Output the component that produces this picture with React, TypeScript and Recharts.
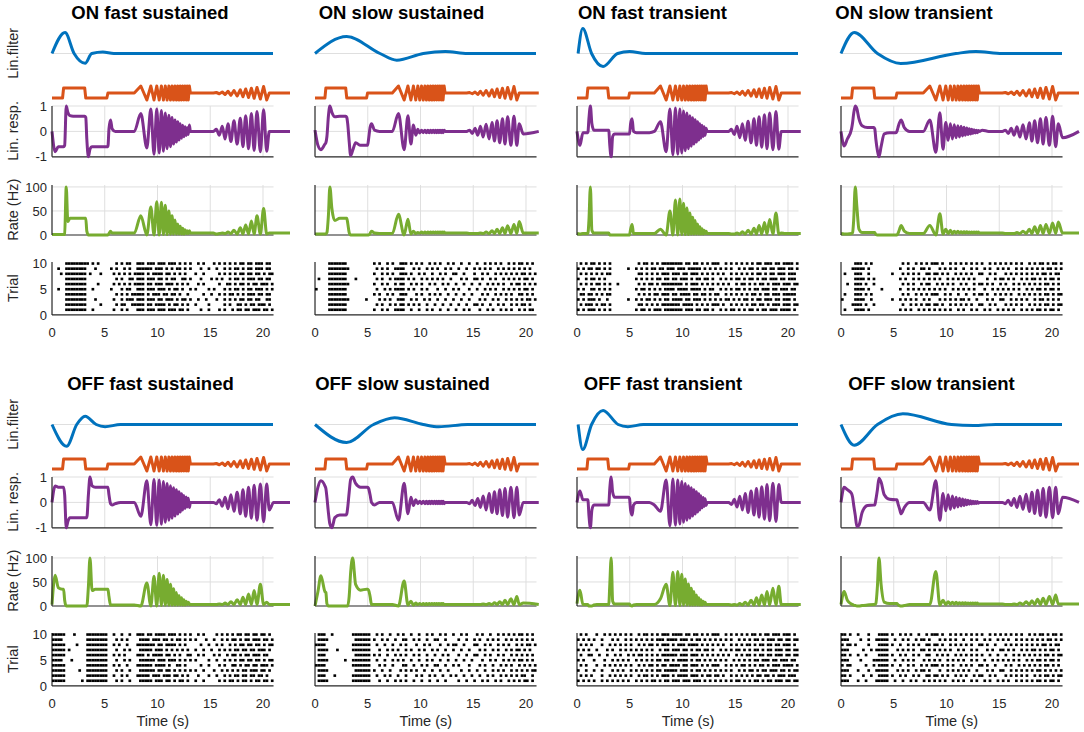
import React from 'react'
import { ComposedChart, Line, Scatter, XAxis, YAxis } from 'recharts'

// ---------- data ----------

const TITLES = [
  'ON fast sustained', 'ON slow sustained', 'ON fast transient', 'ON slow transient',
  'OFF fast sustained', 'OFF slow sustained', 'OFF fast transient', 'OFF slow transient',
]

// sample times (s): columns 1 & 4 use TIME_A, columns 2 & 3 use TIME_B
const TIME_A = [
  0, 0.3, 0.6, 1.0, 1.1, 1.2, 1.35, 1.5, 1.7, 2.0, 2.5, 3.1, 3.2, 3.3, 3.45, 3.6, 3.8, 4.1, 4.6, 5.2, 5.3, 5.4, 5.55, 5.7, 6.0, 6.5, 7.3, 7.8,
  8.42, 8.99, 9.37, 9.67, 9.93, 10.16, 10.37, 10.56, 10.74, 10.91, 11.08, 11.23, 11.38, 11.52, 11.66, 11.79, 11.92, 12.04, 12.16, 12.28, 12.39, 12.5, 12.61, 12.72, 12.82, 12.92, 13.02,
  13.12, 13.4, 14.0, 14.8, 15.3,
  15.58, 15.86, 16.14, 16.41, 16.68, 16.96, 17.25, 17.55, 17.85, 18.1, 18.36, 18.63, 18.9, 19.16, 19.43, 19.75, 20.06, 20.35,
  20.6, 21.0, 22.56,
]
const TIME_B = [
  0, 0.28, 0.56, 0.94, 1.03, 1.13, 1.27, 1.41, 1.6, 1.88, 2.35, 2.91, 3.01, 3.1, 3.24, 3.38, 3.57, 3.85, 4.32, 4.89, 4.98, 5.08, 5.22, 5.36, 5.64, 6.11, 6.86, 7.33,
  7.91, 8.45, 8.81, 9.09, 9.33, 9.55, 9.75, 9.93, 10.1, 10.26, 10.42, 10.56, 10.7, 10.83, 10.96, 11.08, 11.2, 11.32, 11.43, 11.54, 11.65, 11.75, 11.85, 11.96, 12.05, 12.14, 12.24,
  12.33, 12.6, 13.16, 13.91, 14.38,
  14.65, 14.91, 15.17, 15.43, 15.68, 15.94, 16.22, 16.5, 16.78, 17.01, 17.26, 17.51, 17.77, 18.01, 18.26, 18.57, 18.86, 19.13,
  19.36, 19.74, 21.21,
]

const STIMULUS = [
  -1, -1, -1, -1, 1, 1, 1, 1, 1, 1, 1, 1, -1, -1, -1, -1, -1, -1, -1, -1, 0, 0, 0, 0, 0, 0, 0, 0,
  1.4, -1.4, 1.4, -1.4, 1.4, -1.4, 1.4, -1.4, 1.4, -1.4, 1.4, -1.4, 1.4, -1.4, 1.4, -1.4, 1.4, -1.4, 1.4, -1.4, 1.4, -1.4, 1.4, -1.4, 1.4, -1.4, 1.4,
  0, 0, 0, 0, 0,
  0.1, -0.15, 0.2, -0.3, 0.35, -0.45, 0.5, -0.6, 0.65, -0.75, 0.8, -0.9, 0.95, -1.05, 1.1, -1.2, 1.3, -1.4,
  0, 0, 0,
]

// linear filters: lag in % of the filter axis, value in axis units
const FILTER_LAG_ON_FAST_SUS = [0, 5.9, 10, 15, 18, 23, 28, 100]
const FILTER_ON_FAST_SUS = [0, 0.84, 0, -0.39, 0, 0.06, 0, 0]
const FILTER_LAG_ON_SLOW_SUS = [0, 14.3, 29.4, 37, 49, 59, 69, 100]
const FILTER_ON_SLOW_SUS = [0, 0.68, 0, -0.27, 0, 0.08, 0, 0]
const FILTER_LAG_ON_FAST_TRANS = [0.5, 2.6, 6.6, 11.8, 18.4, 23.8, 31, 100]
const FILTER_ON_FAST_TRANS = [0, 1.0, 0, -0.52, 0, 0.08, 0, 0]
const FILTER_LAG_ON_SLOW_TRANS = [0, 6, 16.5, 27, 52, 61, 73, 100]
const FILTER_ON_SLOW_TRANS = [0, 0.84, 0, -0.4, 0, 0.08, 0, 0]
const FILTER_LAG_OFF_FAST_SUS = [0, 6.6, 11.2, 15, 20, 24, 31, 100]
const FILTER_OFF_FAST_SUS = [0, -0.87, 0, 0.33, 0, -0.09, 0, 0]
const FILTER_LAG_OFF_SLOW_SUS = [0, 14.3, 26.5, 36, 49, 56, 69, 100]
const FILTER_OFF_SLOW_SUS = [0, -0.72, 0, 0.27, 0, -0.09, 0, 0]
const FILTER_LAG_OFF_FAST_TRANS = [0.5, 2.6, 6.6, 11.8, 18.6, 23, 30, 100]
const FILTER_OFF_FAST_TRANS = [0, -1.0, 0, 0.56, 0, -0.09, 0, 0]
const FILTER_LAG_OFF_SLOW_TRANS = [0, 6, 16.5, 28, 50, 60, 70, 100]
const FILTER_OFF_SLOW_TRANS = [0, -0.83, 0, 0.43, 0, -0.04, 0, 0]

// linear responses
const RESP_ON_FAST_SUS = [
  0, -0.8, -0.6, -0.6, -0.6, -0.55, 1.0, 0.75, 0.62, 0.6, 0.6, 0.6, 0.55, -0.3, -1.0, -0.7, -0.6, -0.6, -0.6, -0.6, -0.6, 0.1, 0.45, 0.1, 0, 0, 0, 0,
  0.7, -0.65, 0.88, -0.9, 0.88, -0.85, 0.82, -0.78, 0.72, -0.68, 0.64, -0.6, 0.55, -0.5, 0.45, -0.42, 0.38, -0.34, 0.3, -0.27, 0.24, -0.21, 0.18, -0.16, 0.14, -0.12, 0.25,
  0, 0, 0, 0, 0,
  0.08, -0.15, 0.2, -0.3, 0.3, -0.4, 0.42, -0.5, 0.52, -0.6, 0.62, -0.68, 0.7, -0.75, 0.78, -0.8, 0.85, -0.78,
  0, 0, 0,
]
const RESP_ON_SLOW_SUS = [
  0.05, -0.55, -0.72, -0.5, -0.45, -0.2, 0.6, 1.0, 0.75, 0.58, 0.6, 0.6, 0.55, 0.3, -0.4, -0.95, -0.75, -0.45, -0.55, -0.55, -0.55, -0.3, 0.15, 0.3, 0.05, 0, 0, 0,
  0.7, -0.72, 0.62, -0.5, 0.25, -0.15, 0.08, -0.06, 0.05, -0.05, 0.05, -0.05, 0.05, -0.05, 0.05, -0.05, 0.05, -0.05, 0.05, -0.05, 0.05, -0.05, 0.05, -0.05, 0.05, -0.05, 0.05,
  0, 0, 0, 0, 0,
  0.05, -0.08, 0.12, -0.15, 0.2, -0.22, 0.28, -0.3, 0.35, -0.38, 0.42, -0.45, 0.5, -0.5, 0.58, -0.55, 0.6, -0.55,
  0.3, -0.1, 0,
]
const RESP_ON_FAST_TRANS = [
  0, -0.55, -0.05, -0.05, -0.05, 0.5, 1.0, 0.3, 0.05, 0.05, 0.05, 0.05, 0.05, -0.5, -1.0, -0.2, -0.1, -0.1, -0.1, -0.1, -0.1, 0.3, 0.5, 0, -0.05, -0.05, -0.05, 0,
  0.38, -0.8, 0.88, -0.92, 0.92, -0.9, 0.88, -0.85, 0.8, -0.76, 0.72, -0.68, 0.62, -0.58, 0.54, -0.5, 0.46, -0.42, 0.38, -0.34, 0.3, -0.27, 0.24, -0.2, 0.18, -0.15, 0.12,
  0, 0, 0, 0, 0,
  0.08, -0.12, 0.2, -0.25, 0.3, -0.35, 0.4, -0.45, 0.5, -0.55, 0.58, -0.62, 0.66, -0.68, 0.72, -0.72, 0.78, -0.7,
  0, 0, 0,
]
const RESP_ON_SLOW_TRANS = [
  0, -0.57, -0.3, 0.1, 0.35, 0.7, 1.0, 0.9, 0.5, 0.22, 0.15, 0.15, 0.1, -0.3, -0.75, -1.0, -0.6, -0.1, -0.05, -0.05, 0, 0.15, 0.35, 0.45, 0.15, 0, 0, 0,
  0.45, -0.82, 0.73, -0.7, 0.35, -0.35, 0.3, -0.3, 0.26, -0.25, 0.22, -0.22, 0.2, -0.18, 0.16, -0.15, 0.13, -0.12, 0.1, -0.1, 0.08, -0.08, 0.06, -0.06, 0.05, -0.05, 0.04,
  0, 0.05, 0, 0, 0,
  0.05, -0.08, 0.12, -0.15, 0.18, -0.22, 0.26, -0.3, 0.34, -0.38, 0.42, -0.45, 0.5, -0.5, 0.55, -0.55, 0.6, -0.6,
  0.3, -0.25, 0,
]
const RESP_OFF_FAST_SUS = [
  0, 0.65, 0.6, 0.6, 0.6, 0.3, -1.0, -0.75, -0.6, -0.6, -0.6, -0.6, -0.6, -0.6, 0.3, 1.0, 0.65, 0.6, 0.6, 0.6, 0.6, 0.3, -0.05, -0.1, -0.05, 0, 0, 0,
  -0.55, 0.85, -0.88, 0.9, -0.9, 0.88, -0.86, 0.82, -0.78, 0.74, -0.7, 0.66, -0.62, 0.58, -0.54, 0.5, -0.46, 0.42, -0.38, 0.34, -0.3, 0.27, -0.24, 0.21, -0.18, 0.16, -0.2,
  0, 0, 0, 0, 0,
  -0.05, 0.1, -0.15, 0.2, -0.25, 0.3, -0.35, 0.4, -0.45, 0.5, -0.55, 0.6, -0.62, 0.68, -0.7, 0.72, -0.76, 0.72,
  -0.3, 0, 0,
]
const RESP_OFF_SLOW_SUS = [
  0, 0.6, 0.85, 0.65, 0.55, 0.2, -0.4, -0.85, -1.0, -0.6, -0.5, -0.5, -0.45, -0.2, 0.4, 0.9, 1.0, 0.75, 0.6, 0.6, 0.6, 0.55, 0.3, 0, -0.1, 0, 0, 0,
  -0.7, 0.75, -0.45, 0.2, -0.12, 0.1, -0.05, 0.05, -0.05, 0.05, -0.05, 0.05, -0.05, 0.05, -0.05, 0.05, -0.05, 0.05, -0.05, 0.05, -0.05, 0.05, -0.05, 0.05, -0.05, 0.05, -0.05,
  0, 0, 0, 0, 0,
  -0.05, 0.08, -0.12, 0.15, -0.2, 0.25, -0.3, 0.35, -0.4, 0.42, -0.45, 0.5, -0.52, 0.55, -0.58, 0.6, -0.6, 0.6,
  -0.5, 0, 0,
]
const RESP_OFF_FAST_TRANS = [
  0, 0.45, 0.1, 0.1, 0.1, -0.5, -1.0, -0.3, -0.1, -0.1, -0.1, -0.1, -0.1, 0.5, 1.0, 0.4, 0.2, 0.2, 0.2, 0.2, 0.15, -0.3, -0.5, -0.1, 0, 0, 0, -0.1,
  -0.35, 0.88, -0.92, 0.92, -0.9, 0.88, -0.85, 0.82, -0.78, 0.74, -0.7, 0.66, -0.62, 0.58, -0.54, 0.5, -0.46, 0.42, -0.38, 0.34, -0.3, 0.26, -0.22, 0.19, -0.16, 0.14, -0.12,
  0, 0, 0, 0, 0,
  -0.08, 0.12, -0.18, 0.24, -0.3, 0.35, -0.4, 0.45, -0.5, 0.55, -0.58, 0.62, -0.66, 0.7, -0.72, 0.75, -0.75, 0.7,
  0, 0, 0,
]
const RESP_OFF_SLOW_TRANS = [
  0, 0.6, 0.5, 0.35, 0.2, -0.1, -0.5, -0.95, -0.9, -0.4, -0.12, -0.1, -0.1, 0.1, 0.5, 0.95, 0.8, 0.3, 0.12, 0.1, 0.1, -0.05, -0.25, -0.45, -0.2, 0, 0, 0,
  -0.3, 0.85, -0.7, 0.35, -0.33, 0.3, -0.28, 0.25, -0.22, 0.2, -0.18, 0.16, -0.14, 0.13, -0.12, 0.1, -0.09, 0.08, -0.07, 0.06, -0.06, 0.05, -0.05, 0.04, -0.04, 0.04, -0.03,
  0, 0, 0, 0, 0,
  -0.05, 0.08, -0.12, 0.15, -0.2, 0.24, -0.28, 0.32, -0.36, 0.4, -0.44, 0.48, -0.52, 0.55, -0.58, 0.6, -0.6, 0.6,
  -0.45, 0.2, 0,
]

// firing rates (Hz)
const RATE_ON_FAST_SUS = [
  1, 1, 1, 1, 1, 2, 100, 28, 35, 35, 35, 35, 35, 8, 0, 0, 0, 0, 0, 0, 0, 3, 8, 4, 4, 4, 4, 4,
  40, 0, 58, 0, 69, 0, 68, 1, 62, 1, 50, 2, 40, 2, 31, 2, 23, 2, 18, 2, 14, 2, 11, 3, 9, 3, 9,
  4, 4, 4, 4, 4,
  2, 3, 4, 3, 6, 3, 10, 2, 15, 2, 21, 2, 29, 2, 40, 2, 55, 2,
  4, 4, 4,
]
const RATE_ON_SLOW_SUS = [
  2, 2, 2, 2, 2, 5, 40, 100, 55, 30, 35, 35, 35, 25, 5, 0, 0, 0, 0, 0, 0, 0, 3, 8, 4, 3, 3, 3,
  43, 0, 33, 2, 8, 3, 5, 4, 6, 4, 6, 4, 6, 4, 6, 4, 6, 4, 6, 4, 6, 4, 6, 4, 6, 4, 6,
  4, 4, 4, 4, 4,
  3, 3, 3, 3, 4, 3, 6, 3, 9, 3, 12, 3, 15, 3, 19, 3, 22, 3,
  28, 4, 4,
]
const RATE_ON_FAST_TRANS = [
  3, 2, 3, 3, 3, 30, 100, 10, 4, 4, 4, 4, 4, 0, 0, 0, 0, 0, 0, 0, 0, 12, 22, 3, 3, 3, 3, 3,
  12, 0, 50, 0, 73, 0, 75, 1, 66, 1, 56, 1, 46, 2, 37, 2, 30, 2, 23, 2, 17, 2, 13, 2, 10, 3, 8,
  3, 3, 3, 3, 3,
  2, 2, 4, 2, 7, 2, 10, 2, 14, 2, 20, 2, 26, 2, 32, 2, 46, 2,
  4, 3, 3,
]
const RATE_ON_SLOW_TRANS = [
  3, 2, 2, 3, 5, 30, 100, 60, 12, 5, 5, 5, 5, 1, 0, 0, 0, 0, 0, 0, 0, 3, 12, 20, 8, 3, 3, 3,
  20, 0, 44, 2, 12, 3, 10, 3, 8, 4, 8, 4, 7, 4, 7, 4, 7, 4, 6, 4, 6, 4, 6, 4, 6, 4, 6,
  4, 4, 4, 4, 4,
  3, 3, 3, 3, 5, 3, 8, 3, 12, 3, 17, 3, 20, 3, 22, 3, 25, 3,
  27, 4, 4,
]
const RATE_OFF_FAST_SUS = [
  3, 64, 38, 35, 35, 12, 0, 0, 0, 0, 0, 0, 0, 0, 40, 100, 32, 35, 35, 35, 35, 20, 2, 2, 2, 2, 2, 2,
  0, 48, 0, 62, 0, 68, 1, 64, 2, 55, 2, 45, 2, 36, 2, 28, 2, 22, 2, 17, 2, 13, 2, 10, 3, 8, 4,
  3, 3, 3, 3, 3,
  3, 4, 3, 6, 3, 9, 3, 13, 3, 18, 3, 25, 3, 32, 3, 45, 3, 8,
  3, 3, 3,
]
const RATE_OFF_SLOW_SUS = [
  0, 30, 63, 30, 28, 5, 0, 0, 0, 0, 0, 0, 0, 0, 20, 70, 100, 45, 33, 35, 35, 33, 20, 3, 3, 3, 3, 3,
  0, 52, 2, 10, 2, 6, 3, 5, 3, 5, 3, 5, 3, 5, 3, 5, 3, 5, 3, 5, 3, 5, 3, 5, 3, 5, 3,
  3, 3, 3, 3, 3,
  3, 3, 3, 3, 3, 4, 3, 5, 3, 7, 3, 9, 3, 12, 3, 15, 3, 20,
  3, 6, 3,
]
const RATE_OFF_FAST_TRANS = [
  5, 33, 3, 3, 3, 0, 0, 0, 2, 3, 3, 3, 3, 40, 100, 10, 4, 4, 4, 4, 4, 1, 0, 2, 3, 3, 3, 3,
  15, 45, 1, 70, 1, 72, 1, 66, 2, 56, 2, 46, 2, 37, 2, 30, 2, 23, 2, 17, 2, 13, 2, 10, 3, 8, 3,
  3, 3, 3, 3, 3,
  2, 3, 2, 5, 2, 8, 2, 12, 2, 17, 2, 23, 2, 30, 2, 37, 2, 41,
  3, 3, 3,
]
const RATE_OFF_SLOW_TRANS = [
  3, 30, 12, 4, 3, 2, 1, 0, 0, 1, 2, 3, 3, 5, 40, 100, 45, 8, 5, 5, 5, 3, 1, 0, 1, 3, 3, 3,
  3, 72, 2, 12, 3, 9, 4, 8, 4, 8, 4, 7, 4, 7, 4, 7, 4, 6, 4, 6, 4, 6, 4, 6, 4, 6, 4,
  4, 4, 4, 4, 4,
  3, 3, 3, 4, 3, 6, 3, 9, 3, 11, 3, 14, 3, 16, 3, 20, 3, 23,
  4, 4, 4,
]

// spike rasters, trial 1..10; '#' = spike in a 0.25 s bin, '|' starts the next stretch
const RASTER_SEG_START = [0, 1.25, 3.25, 5.5, 7.75, 9, 11.5, 13.25, 15.25]
const RASTER_ON_FAST_SUS = [
  '.....|########|..#......|.#..#.#..|.###.|###.###.##|#.##.#.|...#..#.|..#.#..#.##.##.###.##.#',
  '.....|########|.....#...|..#.##..#|####.|##.####.#.|##.#.#.|.#....#.|....#.#..##.#.##.###.#.',
  '.....|########|...#.....|.#..#.###|.###.|###.##.###|.#.##.#|..#..#..|.#..#.#.#.##.##.##..##.',
  '.....|########|.........|..#.#.#.#|####.|#.###.##.#|#.#..#.|....#..#|..#.#.##.#.#.###.##.##.',
  '..#..|########|..#......|#...#.##.|.###.|###.###.#.|##.#..#|.#....#.|#...#.#.##.#.##.###.#.#',
  '.....|########|....#....|.#.#.#.#.|####.|##.###.###|.#.#.#.|..#.#...|..#..##.#.##.#.##.###.#',
  '.....|########|.........|..#.#..##|.###.|###.##.#.#|#..##.#|...#...#|.#.#..#.##.#.###.##.##.',
  '...#.|########|.#...#...|.#.#.#.#.|####.|#.####.##.|#.#.#..|.#..#...|..#.#.#.#.##.##.##.#.##',
  '..#..|########|...#.....|#.#..#.#.|.####|##.###.#.#|.##.#.#|...#..#.|.#..#.#.##.#.##.###.##.',
  '.....|########|#.#.#....|..#.#.##.|.###.|###.###.##|#.#.#.#|..#.#...|#.#.#.#.#.##.##.###.##.',
]
const RASTER_ON_SLOW_SUS = [
  '.....|#######.|.........|#..#.#..#|###..|#..#..#.#.|.#..#..|#..#.#..|.#..#.#..#.#.#..#.#.##.',
  '.....|#######.|.........|.#.#..#.#|.##.#|.#.#..#..#|..#..#.|.#..#..#|#.#..#..#.#..#.#.##.#..',
  '.....|########|......#..|..#.#.#..|###..|#.#..#.#..|#..#..#|..#..#..|.#.#..#.#..#.#.#.#.##.#',
  '.....|#######.|.........|#.#..#.#.|.###.|..#.#..#.#|.#..#..|#..#..#.|..#.#..#.#.#.#..##.#.#.',
  '#....|#######.|.........|.#..#.#.#|###.#|.#..#.#...|#..#..#|.#...#..|#..#.#.#..#.#.#.#.##.#.',
  '.....|########|.........|#..#.#..#|.##..|#.#.#..#.#|..#.#..|#..#..#.|.#..#.#.#.#..#.##.#.#.#',
  '.#...|#######.|..#......|.#.#..#.#|###.#|.#..#.#.#.|#.#..#.|..#.#..#|#.#..#.#..#.#.#.#.##.#.',
  '.....|#######.|.........|#..#.#.#.|.###.|#..#.#..#.|.#.#..#|#..#...#|..#.#..#.#.#.#.#.##.#.#',
  '.....|########|.........|.#.#.#..#|###..|.#.#..#.#.|#..#.#.|.#..#..#|.#.#.#..#.#.#.#.#.#.#..',
  '.....|#######.|.........|#.#..#.#.|.###.|#.#.#..#.#|.#..#.#|..#..#..|#..#.#.#.#..#.#.##.#.#.',
]
const RASTER_ON_FAST_TRANS = [
  '#.#.#|##.#.#.#|.........|#.##.#.##|#.###|####.###.#|#.##.#.|.#.#.##.|#.#.##.#.##.###.####.#.',
  '.#.##|#.#.##.#|.........|.##.#.#.#|.####|###.####.#|.#.#.##|#.#..#.#|.#.#.##.##.#.###.###.##',
  '#.#.#|##.#..#.|......#..|#.#.##.#.|#.##.|####.##.##|#.#.#.#|.#.##.#.|#.##.#.##.###.##.###.#.',
  '.##.#|#.#.#.##|.........|.#.#.#.##|.###.|##.####.##|.##.#.#|#..#.#.#|.#.#.##.#.##.###.#####.',
  '#.#..|##.#.#.#|.........|#.##.#.#.|#.###|#.####.###|#.#.##.|.#.#.#.#|#.#.#.##.###.##.###.##.',
  '.#.#.|#.##.#.#|..#......|.#.#.##.#|.####|####.#.###|.#.#.#.|#.#.#..#|.##.#.#.##.#.###.###.##',
  '#..#.|##.#.#..|.........|#.#.#.#.#|#.##.|##.###.#.#|#.##.#.|.#.#.#.#|#.#.##.#.##.###.##.###.',
  '.#.#.|#.#.#.##|.........|.##.#.#.#|.###.|###.##.###|.#.#.#.|#.#..#.#|.#.#.#.##.#.##.###.###.',
  '#.#.#|#.##.#.#|......#..|#.#.#.##.|##.##|#.###.####|#.#.#.#|.#.#.#..|#.#.##.#.##.##.###.##.#',
  '.#.#.|##.#.#.#|.........|.#.##.#.#|.####|####.##.##|.#.#.##|#..#.#.#|.#.#.#.##.###.##.####.#',
]
const RASTER_ON_SLOW_TRANS = [
  '.#...|####.#..|.........|#.#.#..#.|#.#.#|.#.#.#..#.|#..#.#.|.#.#..#.|#.#.#..#.#.#.##.#.##.#.',
  '....#|###.#..#|.........|.#..#.#.#|.##.#|#.#..#.#.#|.#.#..#|#..#.#..|.#.#.#.#..#.#.#.##.#.##',
  '#....|####..#.|......#..|#.#.#.#..|#.#..|.#.#.#.#.#|#.#..#.|..#.#..#|#..#.#.#.#..#.##.#.#.#.',
  '.#...|###.#.#.|.........|.#.#..#.#|.#.##|#..#.#..#.|.#..#.#|#.#..#.#|.#.#..#.#.#.#.#.##.#.##',
  '.....|####.#..|..#......|#..#.#.#.|#.#.#|.#.#..#.#.|#.#.#..|.#..#.#.|#.#.#.#..#.#.##.#.##.#.',
  '..#..|###.#..#|.........|.#.#.#..#|.##..|#.#.#.#..#|.#..#.#|#.#.#..#|.#..#.#.#.#.#.#.##.#.#.',
  '.....|####.#.#|.........|#.#..#.#.|#.#.#|.#..#.#.#.|#.#.#..|..#..#.#|#.#.#..#.#.##.#.#.##.#.',
  '.#...|###..#..|......#..|.#.#.#.#.|.##.#|#.#.#..#.#|.#.#..#|#..#.#..|.#.#.#.#.#.#.#.##.#.##.',
  '....#|####.#..|.........|#..#.#..#|#.#..|.#.#.#.#..|#..#.#.|.#.#..#.|#.#..#.#.#.#.#.#.##.#.#',
  '.....|###.#.#.|.........|.#.#..#.#|.#.##|#.#..#.#.#|.#.#.#.|#..#.#.#|.#.#.#.#..#.#.##.#.##.#',
]
const RASTER_OFF_FAST_SUS = [
  '#####|......#.|########.|..#.#..#.|..###|##.###.##.|#.##.#.|.#..#...|..#.#.##.#.##.#.##.##.#',
  '#####|........|########.|.#..#.#..|.####|#.###.###.|##.#.#.|..#...#.|.#..#.#.##.##.##.##.#..',
  '#####|.....#..|########.|..#.#..#.|..###|###.##.##.|#.#.#.#|.#..#...|#..#.#.#.#.##.###.##.#.',
  '#####|........|########.|.#.#..#..|.####|##.####.#.|.##.#..|...#..#.|..#.#..##.#.##.##.###.#',
  '####.|..#.....|########.|..#..#.#.|..###|###.###.##|#.#.#.#|.#....#.|.#..#.#.#.##.##.##.#.##',
  '#####|........|########.|.#.#.#...|.###.|#.####.##.|#.#..##|..#.#...|#.#..#.##.#.##.###.##..',
  '#####|.#......|########.|..#..#.#.|..###|##.###.#.#|.#.#.#.|.#..#..#|..#.#.#.##.##.##.###.#.',
  '#####|....#...|########.|.#.#..#..|.####|###.##.###|#.#.#..|...#..#.|.#.#..#.#.##.##.##.#.##',
  '####.|........|########.|..#.#.#..|..###|#.###.##.#|.##.#.#|.#...#..|#..#.#.##.#.##.###.##.#',
  '#####|...#....|########.|.#..#..#.|.###.|##.####.##|#.#.#.#|..#.#...|.#.#.#.#.##.##.##.##.#.',
]
const RASTER_OFF_SLOW_SUS = [
  '.####|........|.#######.|..#..#..#|.#.#.|.#..#..#..|#..#...|.#..#..#|..#.#..#.#..#.#.#.##.#.',
  '.###.|..#.....|.#######.|.#..#.#..|#..#.|..#.#..#.#|..#..#.|#..#..#.|.#..#.#..#.#.#.#.##..#',
  '.####|........|..######.|#..#..#..|.#.#.|#.#..#..#.|.#..#..|..#..#..|#..#..#.#.#..#.#.#.#.##',
  '####.|........|.#######.|..#.#..#.|..##.|.#..#.#..#|#..#..#|.#...#..|.#.#..#..#.#.#..#.#.#.#',
  '.####|......#.|.#######.|.#..#..#.|#.#..|#..#..#.#.|.#..#..|#..#..#.|..#..#.#..#.#.#.##.#.#.',
  '.###.|........|..######.|#.#..#..#|.#.#.|.#.#..#..#|..#.#..|.#..#..#|#..#.#..#.#..#.#.#.#.#.',
  '.####|...#....|.#######.|..#..#.#.|#..#.|#..#.#..#.|#..#..#|..#..#..|.#.#..#.#..#.#.##.#.#..',
  '####.|........|.#######.|.#..#..#.|.#.#.|..#..#.#..|.#..#.#|#..#...#|#..#.#..#.#.#..#.#.##.#',
  '.####|........|..######.|#..#.#..#|..##.|.#.#..#..#|#..#...|.#..#..#|.#..#.#.#..#.#.#.#.#.#.',
  '.###.|.#......|.#######.|.#.#..#..|#.#..|#..#..#.#.|.#.#..#|..#.#...|#.#..#..#.#.#.#.##.#.#.',
]
const RASTER_OFF_FAST_TRANS = [
  '#.#.#|.#..#.#.|#.#.#.#..|#.#.#.##.|#.##.|###.###.##|#.#.#.#|.#.#.#.#|#.#.#.##.#.##.###.##.##',
  '.#.#.|#...#..#|.#.#.#.#.|.#.##.#.#|.###.|#.####.###|.#.##.#|#.#..#.#|.#.#.#.##.##.#.###.###.',
  '#..#.|.#..#...|#.#.#..#.|#.#.#.#.#|#.###|##.###.#.#|#.#.#.#|.#.#.#..|#.#.##.#.##.###.##.#.##',
  '.#.#.|..#..#.#|.#.#.#.#.|.#.#.##.#|.##.#|###.##.###|.#.#.##|#..#.#.#|.##.#.#.##.#.###.####.#',
  '#.#..|.#...#..|#.#.#.#..|#.#.#.#.#|#.##.|#.####.#.#|#.#.#.#|.#.#..#.|#.#.#.##.###.##.###.##.',
  '.#..#|#..#..#.|.#.#..#.#|.##.#.#.#|.####|##.###.###|.#.#.#.|#.#.#..#|.#.##.#.##.##.###.##.##',
  '#.#.#|..#...#.|#..#.#.#.|#.#.#.#..|#.##.|###.##.#.#|#.##.#.|.#.#.#.#|#.#.#.##.#.##.###.##.##',
  '.#.#.|#...#..#|.#.#.#.#.|.#.#.##.#|.###.|#.###.####|.#.#.#.|#.#..#.#|.#.##.#.##.##.##.###.#.',
  '#.#.#|.#..#...|#.#..#.#.|#.#.#.#.#|##.##|##.###.#.#|#.#.#.#|.#.#.#..|#.#.#.##.#.###.##.##.##',
  '.#.#.|..#..#.#|.#.#.#.#.|.#.##.#.#|.###.|####.##.##|.#.#.##|#..#.#.#|.#.#.##.#.##.###.###.#.',
]
const RASTER_OFF_SLOW_TRANS = [
  '###..|.#..#...|#####..#.|.#..#.#..|#.#.#|.#.#..#.#.|#..#.#.|.#.#..#.|#.#..#.#.#.#.##.#.##.#.',
  '##.#.|...#..#.|.####.#..|#.#..#.#.|.##.#|#.#.#..#.#|.#..#.#|#..#.#..|.#.#.#.#.#..#.#.##.#.##',
  '###..|.#...#..|#####...#|.#.#..#.#|#.#..|.#..#.#.#.|#.#..#.|..#.#..#|#..#.#.#.#.#.##.#.#.#.#',
  '#.##.|....#..#|.####.#..|#..#.#..#|.#.##|#.#.#.#..#|.#.#..#|#.#..#..|.#.#..#.#.#.#.#.##.#.#.',
  '###..|..#....#|#####..#.|.#.#.#...|#.#.#|.#..#.#.#.|#..#.#.|.#..#.#.|#.#.#.#..#.#.##.#.##.#.',
  '##.#.|.#..#...|.####.#..|#.#..#.#.|.##..|#.#.#..#.#|.#.#.#.|#..#..#.|.#..#.#.#.#.#.#.##.#.##',
  '###..|...#..#.|#####...#|.#.#.#..#|#.#.#|.#.#.#..#.|#..#.#.|..#.#..#|#.#.#..#.#.##.#.#.##.#.',
  '#.##.|#....#..|.####.#..|#..#.#.#.|.##.#|#.#..#.#.#|.#.#..#|#.#..#..|.#.#.#.#.#.#.#.##.#.##.',
  '###..|..#..#..|#####..#.|.#.#..#.#|#.#..|.#.#.#.#..|#..#.#.|.#.#..#.|#.#..#.#.#.#.#.#.##.#.#',
  '##.#.|.#...#..|.####.#..|#.#.#..#.|.#.##|#.#..#.#.#|.#.#.#.|#..#.#.#|.#.#.#.#..#.#.##.#.##.#',
]

// ---------- layout & style ----------

const BLUE = '#0072BD'
const ORANGE = '#D95319'
const PURPLE = '#7E2F8E'
const GREEN = '#77AC30'
const AXIS = '#262626'
const GRID = '#dfdfdf'
const FONT = '"Liberation Sans", Arial, Helvetica, sans-serif'

const COL_X = [52, 315, 577.3, 841]
const ROW_DY = [0, 371]
const TITLE_X = [150, 401.5, 652.5, 914, 150.5, 402.5, 663, 931.5]
const X_MAX = 22.56
const PLOT_W = 238
const FILTER_W = 221
const Y_W = 40
const PAD = 9
const LW = 3

type Pt = { t: number; v: number }
const pts = (ts: number[], vs: number[]): Pt[] => ts.map((t, i) => ({ t, v: vs[i] }))

const rasterPoints = (trials: string[]): Pt[] => {
  const out: Pt[] = []
  trials.forEach((row, k) => {
    row.split('|').forEach((seg, s) => {
      for (let i = 0; i < seg.length; i++) {
        if (seg[i] === '#') out.push({ t: RASTER_SEG_START[s] + (i + 0.5) * 0.25, v: k + 1 })
      }
    })
  })
  return out
}

const trace = (key: string, data: Pt[], color: string, width = LW, type: 'monotone' | 'linear' = 'monotone') => (
  <Line
    key={key}
    data={data}
    dataKey="v"
    type={type}
    stroke={color}
    strokeWidth={width}
    strokeLinejoin="round"
    dot={false}
    activeDot={false}
    isAnimationActive={false}
  />
)

const hLine = (key: string, y: number, color = GRID, w = 1) =>
  trace(key, [{ t: 0, v: y }, { t: 21, v: y }], color, w, 'linear')

const vGrid = (lo: number, hi: number) =>
  [5, 10, 15, 20].map((x) => trace('gv' + x, [{ t: x, v: lo }, { t: x, v: hi }], GRID, 1, 'linear'))

const tickStyle = { fontSize: 13, fill: AXIS, fontFamily: FONT }

function Axes(props: {
  x0: number
  top: number
  h: number
  w?: number
  xMax?: number
  yDomain: [number, number]
  yTicks?: number[]
  yLabels?: boolean
  xLabels?: boolean
  children: React.ReactNode
}) {
  const { x0, top, h, w = PLOT_W, xMax = X_MAX, yDomain, yTicks, yLabels, xLabels, children } = props
  const xh = xLabels ? 30 : 0
  return (
    <div style={{ position: 'absolute', left: x0 - Y_W, top: top - PAD }}>
      <ComposedChart
        width={Y_W + w + PAD}
        height={h + 2 * PAD + xh}
        margin={{ top: PAD, right: PAD, bottom: PAD, left: 0 }}
      >
        <XAxis
          type="number"
          dataKey="t"
          domain={[0, xMax]}
          ticks={[0, 5, 10, 15, 20]}
          interval={0}
          hide={!xLabels}
          height={xh}
          axisLine={false}
          tickLine={false}
          tickSize={0}
          tickMargin={13}
          tick={tickStyle}
        />
        <YAxis
          type="number"
          dataKey="v"
          domain={yDomain}
          ticks={yTicks}
          interval={0}
          width={Y_W}
          axisLine={yTicks ? { stroke: AXIS, strokeWidth: 1.2 } : false}
          tickLine={false}
          tickSize={0}
          tickMargin={5}
          tick={yLabels ? tickStyle : false}
        />
        {children}
      </ComposedChart>
    </div>
  )
}

const PANELS = [
  { time: TIME_A, lag: FILTER_LAG_ON_FAST_SUS, filter: FILTER_ON_FAST_SUS, resp: RESP_ON_FAST_SUS, rate: RATE_ON_FAST_SUS, raster: RASTER_ON_FAST_SUS },
  { time: TIME_B, lag: FILTER_LAG_ON_SLOW_SUS, filter: FILTER_ON_SLOW_SUS, resp: RESP_ON_SLOW_SUS, rate: RATE_ON_SLOW_SUS, raster: RASTER_ON_SLOW_SUS },
  { time: TIME_B, lag: FILTER_LAG_ON_FAST_TRANS, filter: FILTER_ON_FAST_TRANS, resp: RESP_ON_FAST_TRANS, rate: RATE_ON_FAST_TRANS, raster: RASTER_ON_FAST_TRANS },
  { time: TIME_A, lag: FILTER_LAG_ON_SLOW_TRANS, filter: FILTER_ON_SLOW_TRANS, resp: RESP_ON_SLOW_TRANS, rate: RATE_ON_SLOW_TRANS, raster: RASTER_ON_SLOW_TRANS },
  { time: TIME_A, lag: FILTER_LAG_OFF_FAST_SUS, filter: FILTER_OFF_FAST_SUS, resp: RESP_OFF_FAST_SUS, rate: RATE_OFF_FAST_SUS, raster: RASTER_OFF_FAST_SUS },
  { time: TIME_B, lag: FILTER_LAG_OFF_SLOW_SUS, filter: FILTER_OFF_SLOW_SUS, resp: RESP_OFF_SLOW_SUS, rate: RATE_OFF_SLOW_SUS, raster: RASTER_OFF_SLOW_SUS },
  { time: TIME_B, lag: FILTER_LAG_OFF_FAST_TRANS, filter: FILTER_OFF_FAST_TRANS, resp: RESP_OFF_FAST_TRANS, rate: RATE_OFF_FAST_TRANS, raster: RASTER_OFF_FAST_TRANS },
  { time: TIME_A, lag: FILTER_LAG_OFF_SLOW_TRANS, filter: FILTER_OFF_SLOW_TRANS, resp: RESP_OFF_SLOW_TRANS, rate: RATE_OFF_SLOW_TRANS, raster: RASTER_OFF_SLOW_TRANS },
]

function Panel({ idx }: { idx: number }) {
  const p = PANELS[idx]
  const col = idx % 4
  const row = Math.floor(idx / 4)
  const x0 = COL_X[col]
  const dy = ROW_DY[row]
  const first = col === 0
  return (
    <>
      <Axes x0={x0} top={25.8 + dy} h={55} w={FILTER_W} xMax={100} yDomain={[-1.1, 1.1]}>
        {trace('zero', [{ t: 0, v: 0 }, { t: 100, v: 0 }], GRID, 1.2, 'linear')}
        {trace('filter', pts(p.lag, p.filter), BLUE)}
      </Axes>
      <Axes x0={x0} top={83.2 + dy} h={20} yDomain={[-2, 2]}>
        {trace('stim', pts(p.time, STIMULUS), ORANGE, LW, 'linear')}
      </Axes>
      <Axes x0={x0} top={105.5 + dy} h={50.8} yDomain={[-1, 1]} yTicks={[-1, 0, 1]} yLabels={first}>
        {vGrid(-1, 1)}
        {hLine('g0', 0)}
        {hLine('g1', 1)}
        {hLine('ax', -1, AXIS, 1.2)}
        {trace('resp', pts(p.time, p.resp), PURPLE)}
      </Axes>
      <Axes x0={x0} top={184.8 + dy} h={50} yDomain={[0, 104]} yTicks={[0, 50, 100]} yLabels={first}>
        {vGrid(0, 104)}
        {hLine('g50', 50)}
        {hLine('g100', 100)}
        {hLine('ax', 0, AXIS, 1.2)}
        {trace('rate', pts(p.time, p.rate), GREEN)}
      </Axes>
      <Axes x0={x0} top={261.8 + dy} h={52.9} yDomain={[0, 10.3]} yTicks={[0, 5, 10]} yLabels={first} xLabels>
        {hLine('ax', 0, AXIS, 1.2)}
        <Scatter
          key="spikes"
          data={rasterPoints(p.raster)}
          dataKey="v"
          isAnimationActive={false}
          shape={(s: any) => <rect x={s.cx - 1.35} y={s.cy - 1.3} width={2.7} height={2.6} fill="#000" />}
        />
      </Axes>
    </>
  )
}

export default function App() {
  const yLabels = [
    { text: 'Lin.filter', y: 53.3 },
    { text: 'Lin. resp.', y: 130.9 },
    { text: 'Rate (Hz)', y: 209.8 },
    { text: 'Trial', y: 288.2 },
  ]
  return (
    <div
      style={{
        position: 'absolute',
        left: 0,
        top: 0,
        width: 1084,
        height: 732,
        background: '#fff',
        overflow: 'hidden',
        fontFamily: FONT,
      }}
    >
      {PANELS.map((_, i) => (
        <Panel key={i} idx={i} />
      ))}
      <svg width={1084} height={732} style={{ position: 'absolute', left: 0, top: 0, pointerEvents: 'none' }}>
        {TITLES.map((t, i) => (
          <text
            key={t}
            x={TITLE_X[i]}
            y={12 + ROW_DY[Math.floor(i / 4)]}
            textAnchor="middle"
            dominantBaseline="central"
            fontSize={18.5}
            fontWeight="bold"
            fontFamily={FONT}
            fill="#000"
          >
            {t}
          </text>
        ))}
        {ROW_DY.map((dy) =>
          yLabels.map((l) => (
            <text
              key={l.text + dy}
              transform={`translate(13, ${l.y + dy}) rotate(-90)`}
              textAnchor="middle"
              dominantBaseline="central"
              fontSize={14.5}
              fontFamily={FONT}
              fill={AXIS}
            >
              {l.text}
            </text>
          ))
        )}
        {COL_X.map((x) => (
          <text
            key={'time' + x}
            x={x + 110.8}
            y={721}
            textAnchor="middle"
            dominantBaseline="central"
            fontSize={14.5}
            fontFamily={FONT}
            fill={AXIS}
          >
            Time (s)
          </text>
        ))}
      </svg>
    </div>
  )
}
